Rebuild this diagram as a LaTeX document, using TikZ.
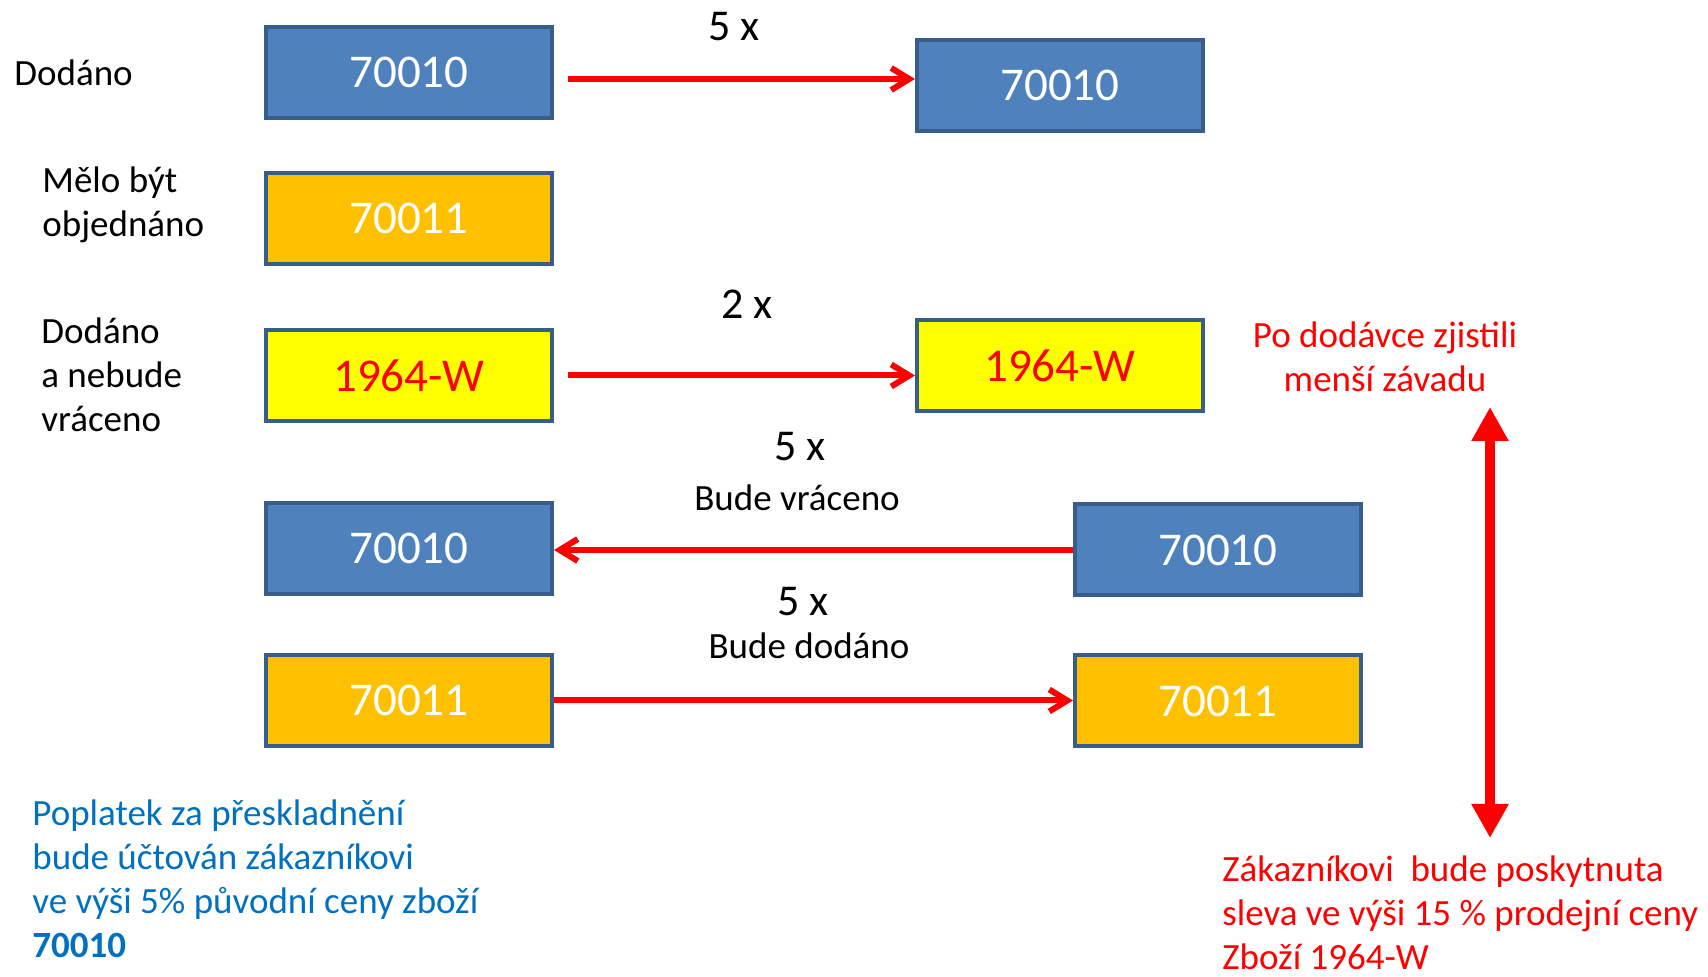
\documentclass[tikz,border=0pt]{standalone}
\usepackage{fontspec}
\setmainfont{Carlito}
\usepackage{tikz}
\usetikzlibrary{arrows.meta,positioning}
\definecolor{boxblue}{HTML}{4F81BD}
\definecolor{boxedge}{HTML}{385D8A}
\definecolor{boxorange}{HTML}{FFC000}
\definecolor{boxyellow}{HTML}{FFFF00}
\definecolor{notered}{HTML}{FF0000}
\definecolor{noteblue}{HTML}{0070C0}
\tikzset{
  every node/.style={
    font=\fontsize{18.5pt}{22pt}\selectfont,
    inner sep=0pt
  },
  itembox/.style={
    shape=rectangle,
    minimum width=143pt,
    minimum height=45.5pt,
    draw=boxedge,
    line width=2pt,
    font=\fontsize{23.5pt}{28pt}\selectfont
  },
  blue item/.style={itembox, fill=boxblue, text=white},
  orange item/.style={itembox, fill=boxorange, text=white},
  yellow item/.style={itembox, fill=boxyellow, text=notered},
  times label/.style={font=\fontsize{22pt}{26pt}\selectfont},
  row label/.style={align=left, anchor=west},
  red arrow/.style={
    draw=notered,
    line width=3pt,
    -{Straight Barb[length=9pt,width=11pt]}
  },
  both arrow/.style={
    draw=notered,
    line width=5pt,
    {Triangle[length=17pt,width=17.5pt]}-{Triangle[length=17pt,width=17.5pt]}
  }
}
\begin{document}
\begin{tikzpicture}[x=0.5pt,y=-0.5pt]
  \useasboundingbox (0,0) rectangle (1708,977);
  % row labels
  \node [row label] (dodano) at (14,73) {Dodáno};
  \node [row label] (melo) at (42,204.5) {Mělo být\\objednáno};
  \node [row label] (nevraceno) at (41,375) {Dodáno\\a nebude\\vráceno};
  % boxes
  \node [blue item] (b1) at (409,72.5) {70010};
  \node [orange item] (b2) at (409,218.5) {70011};
  \node [yellow item] (b3) at (409,375.5) {1964-W};
  \node [blue item] (b4) at (1060,85.5) {70010};
  \node [yellow item] (b5) at (1060,365.5) {1964-W};
  \node [blue item] (b6) at (409,548.5) {70010};
  \node [orange item] (b7) at (409,700.5) {70011};
  \node [blue item] (b8) at (1218,550) {70010};
  \node [orange item] (b9) at (1218,701) {70011};
  % counts
  \node [times label] (t1) at (734,27) {5 x};
  \node [times label] (t2) at (747,304) {2 x};
  \node [times label] (t3) at (800,447) {5 x};
  \node (vraceno) at (797,498) {Bude vráceno};
  \node [times label] (t4) at (803,602) {5 x};
  \node (dodano2) at (809,646) {Bude dodáno};
  % arrows
  \draw [red arrow] ([xshift=7pt,yshift=-3.25pt]b1.east) coordinate (a1) -- (a1 -| b4.west);
  \draw [red arrow] ([xshift=7pt]b3.east) coordinate (a2) -- (a2 -| b5.west);
  \draw [red arrow] (b8.west) -- (b8.west -| b6.east);
  \draw [red arrow] (b7.east) -- (b7.east -| b9.west);
  % notes
  \node [text=notered, align=center] (zavada) at (1385,357) {Po dodávce zjistili\\menší závadu};
  \node [text=noteblue, row label] (poplatek) at (32,878.5)
    {Poplatek za přeskladnění\\bude účtován zákazníkovi\\ve výši 5\% původní ceny zboží\\\textbf{70010}};
  \node [text=notered, row label] (sleva) at (1222,913)
    {Zákazníkovi\ \ bude poskytnuta\\sleva ve výši 15 \% prodejní ceny\\Zboží 1964-W};
  \coordinate (dtop) at (1490,407);
  \coordinate (dbot) at (1490,838);
  \draw [both arrow] (dtop) -- (dbot);
\end{tikzpicture}
\end{document}
